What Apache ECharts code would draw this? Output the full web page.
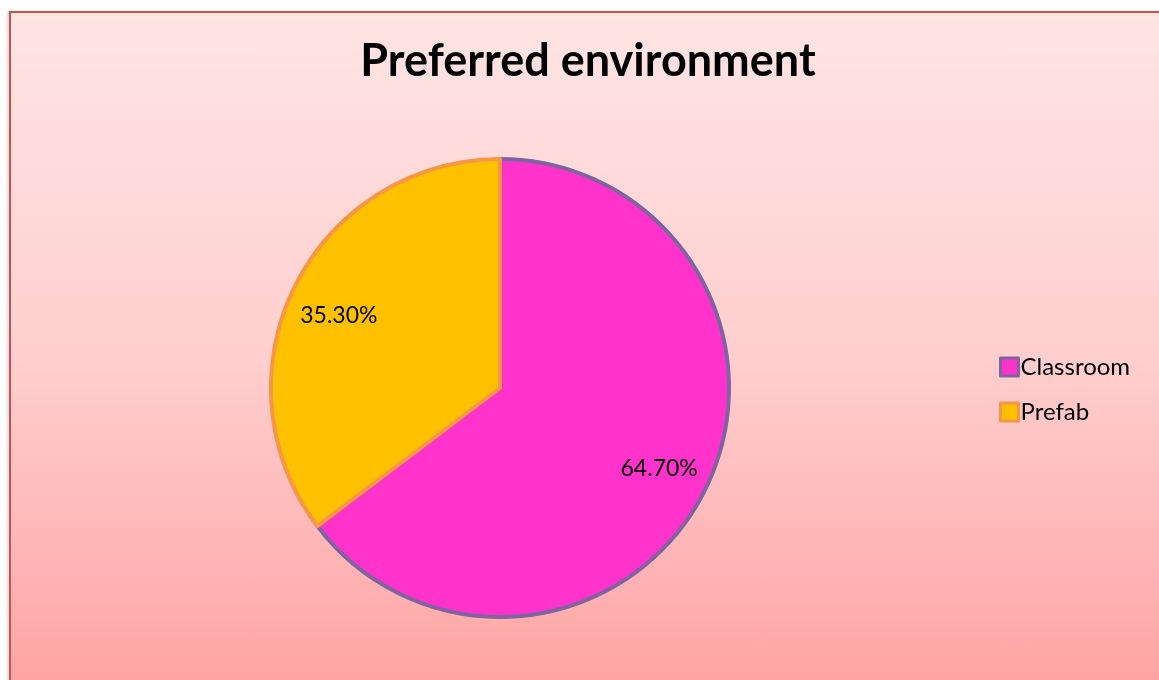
<!DOCTYPE html>
<html><head><meta charset="utf-8">
<script src="https://cdn.jsdelivr.net/npm/echarts@6/dist/echarts.min.js"></script>
<style>
html,body{margin:0;padding:0;background:#fff;width:1159px;height:680px;overflow:hidden;}
#frame{position:absolute;left:9px;top:11px;width:1160px;height:680px;border-left:2px solid #C9524F;border-top:2px solid #C9524F;
background:linear-gradient(to bottom,#FFE4E4 0%,#FFCFCF 50%,#FFA3A3 100%);box-shadow:-2px 0 3px rgba(0,0,0,0.15);}
#chart{position:absolute;left:0;top:0;width:1159px;height:680px;}
</style></head>
<body>
<div id="frame"></div>
<div id="chart"></div>
<script>
const categories = ['Classroom', 'Prefab'];
const values = [64.70, 35.30];
const fills = ['#FF33CC', '#FFC000'];
const borders = ['#8064A2', '#F79646'];

const chart = echarts.init(document.getElementById('chart'), null, {renderer: 'canvas'});
const FONT = 'Lato, "Open Sans", sans-serif';
const labelOffsets = [[-2, 0], [0, 8]];
const dataMain = categories.map((c, i) => ({
  name: c, value: values[i],
  itemStyle: {color: fills[i], borderColor: borders[i], borderWidth: 4}
}));
chart.setOption({
  backgroundColor: 'transparent',
  animation: false,
  title: {
    text: 'Preferred environment', left: 583, top: 34, textAlign: 'center',
    textStyle: {fontFamily: FONT, fontSize: 45, fontWeight: 'bold', color: '#000'}
  },
  legend: {
    orient: 'vertical', left: 999, top: 355, padding: 0, itemWidth: 18, itemHeight: 18, itemGap: 21,
    icon: 'rect',
    textStyle: {fontFamily: FONT, fontSize: 24, lineHeight: 18, color: '#000', padding: [0, 0, 0, -3]},
    data: categories.map((c, i) => ({name: c, itemStyle: {color: fills[i], borderColor: borders[i], borderWidth: 3}}))
  },
  series: [{
    type: 'pie', center: [500, 388], radius: [0, 229], startAngle: 90, clockwise: true,
    label: {show: false}, labelLine: {show: false}, silent: true,
    data: dataMain
  }, {
    type: 'pie', center: [500, 388], radius: [124, 230], startAngle: 90, clockwise: true,
    silent: true, legendHoverLink: false,
    label: {show: true, position: 'inside', formatter: p => values[p.dataIndex].toFixed(2) + '%',
      fontFamily: FONT, fontSize: 23, color: '#000'},
    labelLine: {show: false},
    itemStyle: {color: 'transparent', borderWidth: 0},
    data: categories.map((c, i) => ({name: c + ' ', value: values[i], label: {offset: labelOffsets[i]}}))
  }]
});
</script>
</body></html>
